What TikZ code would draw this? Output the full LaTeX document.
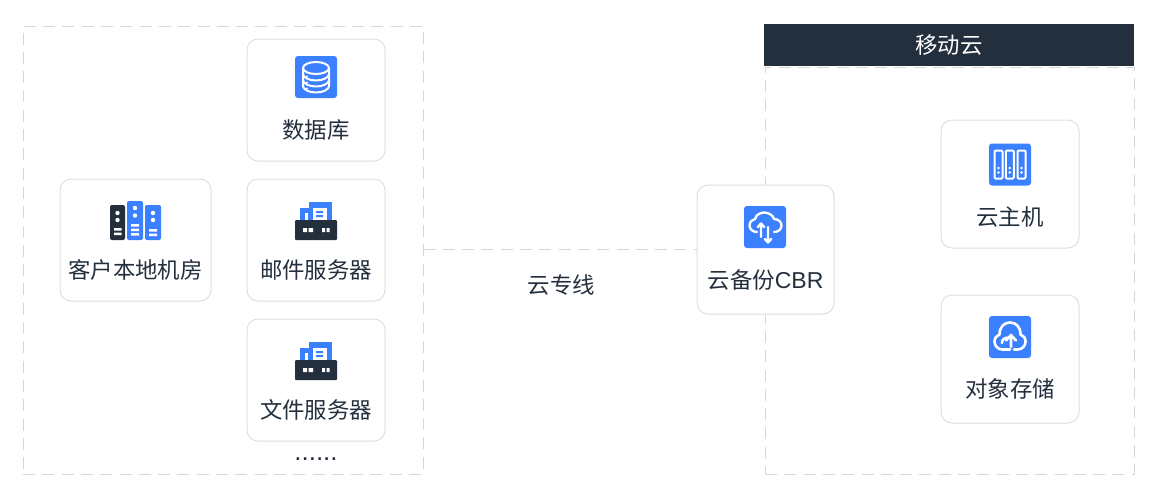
\documentclass[tikz,border=0pt]{standalone}
\usepackage{fontspec}
\setmainfont{Noto Sans CJK SC}
\newfontfamily\dotfont{Liberation Sans}
\definecolor{brandblue}{HTML}{3A80FF}
\definecolor{inkdark}{HTML}{242F3E}
\definecolor{cardline}{HTML}{DCDFE6}
\definecolor{dashline}{HTML}{D3D7DE}
\tikzset{
  x=0.5pt,y=-0.5pt,
  card/.style={draw=cardline,line width=0.5pt,fill=white,rounded corners=5.5pt,inner sep=0pt},
  groupbox/.style={draw=dashline,line width=0.5pt,dash pattern=on 6pt off 3.65pt,inner sep=0pt},
  link/.style={draw=dashline,line width=0.5pt,dash pattern=on 6pt off 3.65pt},
  lbl/.style={text=inkdark,font=\fontsize{11.2}{13}\selectfont,inner sep=0pt},
  wline/.style={draw=white,line width=1.15pt,line cap=round,line join=round},
  pics/dbicon/.style={code={
    \fill[brandblue,rounded corners=1.5pt] (0,0) rectangle (42,42);
    \draw[wline,line width=1pt] (8,12) -- (8,30) .. controls (8,33.5) and (14,36.5) .. (21,36.5) .. controls (28,36.5) and (34,33.5) .. (34,30) -- (34,12);
    \draw[wline,line width=1pt] (21,12) ellipse (13 and 6);
    \draw[wline,line width=1pt] (8,18) .. controls (8,21.5) and (14,24.5) .. (21,24.5) .. controls (28,24.5) and (34,21.5) .. (34,18);
    \draw[wline,line width=1pt] (8,24) .. controls (8,27.5) and (14,30.5) .. (21,30.5) .. controls (28,30.5) and (34,27.5) .. (34,24);
    \fill[white] (12,20.5) circle (1.2) (12,26.5) circle (1.2) (12,32.5) circle (1.2);
  }},
  pics/roomicon/.style={code={
    \fill[inkdark,rounded corners=1pt] (0,4) rectangle (15,39);
    \fill[brandblue,rounded corners=1pt] (17,0) rectangle (33,39);
    \fill[brandblue,rounded corners=1pt] (35,4) rectangle (51,39);
    \fill[white] (7.5,12) circle (2.2) (7.5,19) circle (2.2);
    \fill[white] (4,27) rectangle (11.5,29.5) (4,31.5) rectangle (11.5,34);
    \fill[white] (25,7) circle (2.2) (25,14.5) circle (2.2);
    \fill[white] (21,23) rectangle (29,25.5) (21,27.5) rectangle (29,30) (21,32) rectangle (29,34.5);
    \fill[white] (43,12) circle (2.2) (43,19) circle (2.2);
    \fill[white] (39,28) rectangle (47,30.5) (39,32.5) rectangle (47,35);
  }},
  pics/serverhouse/.style={code={
    \fill[brandblue] (14,0) rectangle (37,18);
    \fill[brandblue] (5,5.5) rectangle (14,18);
    \fill[white] (10,10.5) rectangle (13,18);
    \fill[white] (18,5.5) rectangle (32,18);
    \fill[brandblue] (21,9) rectangle (28,11) (21,13) rectangle (28,15);
    \fill[inkdark,rounded corners=0.5pt] (0,18) rectangle (42,38);
    \fill[white] (8,26) rectangle (12,30) (13.5,26) rectangle (18,30);
    \fill[white] (27,26) rectangle (30,30) (31.5,26) rectangle (34.5,30);
  }},
  pics/backupicon/.style={code={
    \fill[brandblue,rounded corners=1.5pt] (0,0) rectangle (42,42);
    \draw[wline] (13,26) .. controls (8.5,26) and (5.5,23) .. (5.5,19.5) .. controls (5.5,16) and (8,13.5) .. (11,13) .. controls (12,9) and (16,6.5) .. (20,6.5) .. controls (25,6.5) and (29,9.5) .. (30,13) .. controls (34.5,13) and (37.5,16) .. (37.5,19.5) .. controls (37.5,23) and (34.5,26) .. (30,26);
    \draw[wline] (17,31) -- (17,18) (13.8,21) -- (17,17.5) -- (20.2,21);
    \draw[wline] (24,21) -- (24,36) (20.8,33) -- (24,36.5) -- (27.2,33);
  }},
  pics/hosticon/.style={code={
    \fill[brandblue,rounded corners=1.5pt] (0,0) rectangle (42,42);
    \foreach \u in {5.5,16.8,28.5}{
      \draw[wline,line width=1pt,rounded corners=0.5pt] (\u,7) rectangle ++(8,28);
      \fill[white] (\u+4,24.5) circle (1.4) (\u+4,29) circle (1.4);
    }
  }},
  pics/storeicon/.style={code={
    \fill[brandblue,rounded corners=1.5pt] (0,0) rectangle (42,42);
    \draw[wline,line width=1.3pt] (21,33.5) -- (13.5,33.5) .. controls (8.5,33.5) and (5.5,29.5) .. (5.5,25.5) .. controls (5.5,22) and (7.5,19.5) .. (10.5,18.5) .. controls (10.5,11) and (15,6.5) .. (21,6.5) .. controls (27,6.5) and (31.5,11) .. (31.5,18.5) .. controls (34.5,19.5) and (36.5,22) .. (36.5,25.5) .. controls (36.5,29.5) and (33.5,33.5) .. (28.5,33.5) -- (25,33.5);
    \draw[wline,line width=1.3pt] (22,31) -- (22,20) (17,24.5) -- (22,19) -- (27,24.5);
    \draw[wline,line width=1.3pt] (13,27) .. controls (13,23.5) and (15,22) .. (18,21.5);
  }}
}
\begin{document}
\begin{tikzpicture}
\useasboundingbox (0,0) rectangle (1160,500);
% group frames
\node[groupbox,minimum width=200pt,minimum height=224pt] (onprem) at (223,250) {};
\node[groupbox,minimum width=184.5pt,minimum height=203.5pt] (cloud) at (949.5,270.5) {};
\node[fill=inkdark,minimum width=185pt,minimum height=21pt,inner sep=0pt,text=white,font=\fontsize{11.2}{13}\selectfont] (cloudhead) at (949,45) {移动云};
% cards
\node[card,minimum width=75.5pt,minimum height=61pt] (room) at (135.5,240) {};
\node[card,minimum width=69pt,minimum height=61pt] (db) at (316,100) {};
\node[card,minimum width=69pt,minimum height=61pt] (mail) at (316,240) {};
\node[card,minimum width=69pt,minimum height=61pt] (file) at (316,380) {};
\node[card,minimum width=68.5pt,minimum height=64.5pt] (cbr) at (765.5,249.5) {};
\node[card,minimum width=69pt,minimum height=64pt] (host) at (1010,184) {};
\node[card,minimum width=69pt,minimum height=64pt] (store) at (1010,359) {};
% link
\draw[link] (cbr.west -| onprem.east) -- (cbr.west);
% icons
\pic at (110,201) {roomicon};
\pic at (295,56) {dbicon};
\pic at (295,202) {serverhouse};
\pic at (295,342) {serverhouse};
\pic at (744,206) {backupicon};
\pic at (989,143.5) {hosticon};
\pic at (989,316) {storeicon};
% labels
\node[lbl] (roomlbl) at (135.5,270) {客户本地机房};
\node[lbl] (dblbl) at (316,130) {数据库};
\node[lbl] (maillbl) at (316,270) {邮件服务器};
\node[lbl] (filelbl) at (316,410) {文件服务器};
\node[lbl] (cbrlbl) at (765.5,280) {云备份{\dotfont\fontsize{11.5}{13}\selectfont CBR}};
\node[lbl] (hostlbl) at (1010,217) {云主机};
\node[lbl] (storelbl) at (1010,389) {对象存储};
\node[lbl] (linklbl) at (561.5,285) {云专线};
\node[text=inkdark,inner sep=0pt,font=\dotfont\fontsize{13}{13}\selectfont,anchor=base] (more) at (316,460) {......};
\end{tikzpicture}
\end{document}
